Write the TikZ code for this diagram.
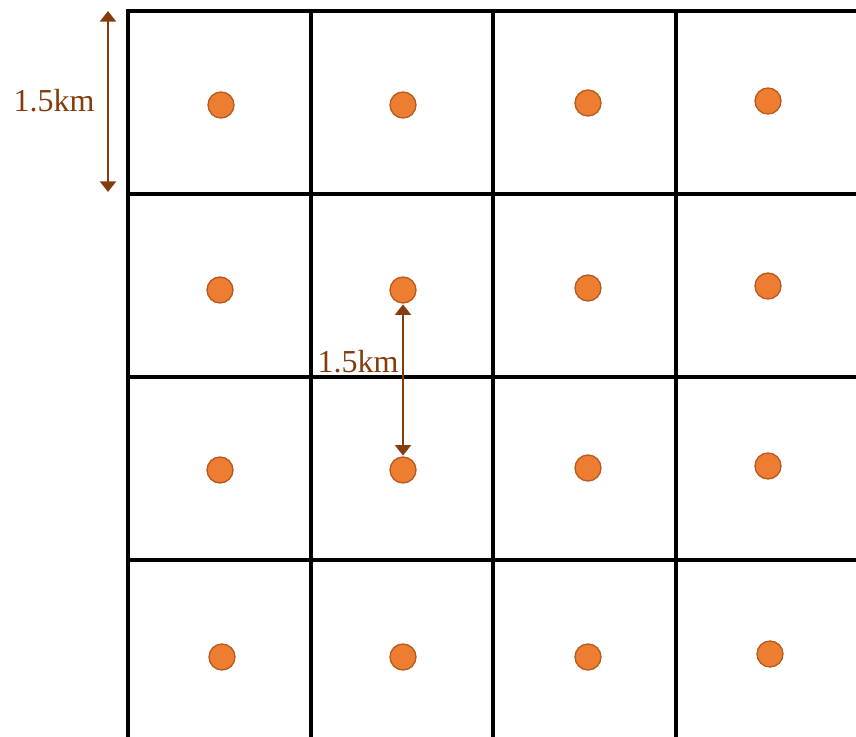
\documentclass[tikz,border=0pt]{standalone}
\usepackage{fontspec}
\setmainfont{Liberation Serif}
\usetikzlibrary{arrows.meta}
\definecolor{dotfill}{HTML}{ED7D31}
\definecolor{dotline}{HTML}{B85A1E}
\definecolor{dimc}{HTML}{843C0C}
\begin{document}
\begin{tikzpicture}[x=0.75pt,y=-0.75pt,
  gridline/.style={line width=2.4pt,black},
  site/.style={circle,fill=dotfill,draw=dotline,line width=1pt,minimum size=19.5pt,inner sep=0pt},
  dimarrow/.style={dimc,line width=1.6pt,{Triangle[length=8pt,width=12pt]}-{Triangle[length=8pt,width=12pt]}},
  dimlabel/.style={text=dimc,font=\fontsize{24}{26}\selectfont,inner sep=0pt}]
\useasboundingbox (0,0) rectangle (856,737);
% grid
\draw[gridline] (128,737) -- (128,11) -- (856,11);
\draw[gridline] (311,11) -- (311,737);
\draw[gridline] (493,11) -- (493,737);
\draw[gridline] (676,11) -- (676,737);
\draw[gridline] (128,194) -- (856,194);
\draw[gridline] (128,377) -- (856,377);
\draw[gridline] (128,560) -- (856,560);
% sites
\node[site] (d11) at (221,105) {};
\node[site] (d12) at (403,105) {};
\node[site] (d13) at (588,103) {};
\node[site] (d14) at (768,101) {};
\node[site] (d21) at (220,290) {};
\node[site] (d22) at (403,290) {};
\node[site] (d23) at (588,288) {};
\node[site] (d24) at (768,286) {};
\node[site] (d31) at (220,470) {};
\node[site] (d32) at (403,470) {};
\node[site] (d33) at (588,468) {};
\node[site] (d34) at (768,466) {};
\node[site] (d41) at (222,657) {};
\node[site] (d42) at (403,657) {};
\node[site] (d43) at (588,657) {};
\node[site] (d44) at (770,654) {};
% dimension arrows
\coordinate (t1) at (108,11);
\coordinate (b1) at (108,192);
\draw[dimarrow] (t1) -- (b1);
\node[dimlabel] (lab1) at (54,101) {1.5km};
\draw[dimarrow,shorten <=0.5pt,shorten >=0.5pt] (d22.south) -- (d32.north);
\node[dimlabel] (lab2) at (358,362) {1.5km};
\end{tikzpicture}
\end{document}
